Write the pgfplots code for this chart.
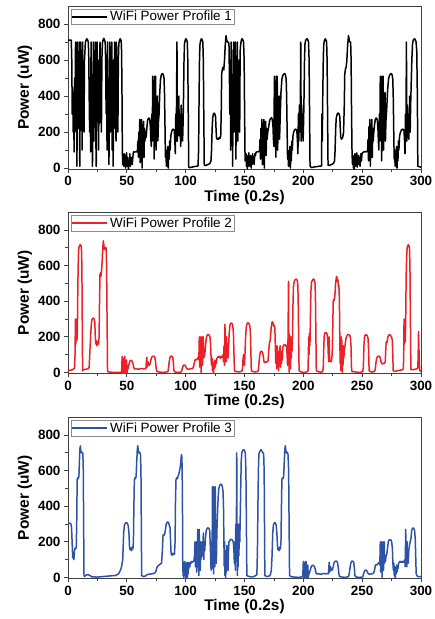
\documentclass[border=0pt]{standalone}
\usepackage{fontspec}
\setmainfont{Liberation Sans}
\usepackage{pgfplots}
\pgfplotsset{compat=1.18}
\definecolor{pred}{RGB}{236,32,38}
\definecolor{pblue}{RGB}{46,82,166}
\pgfplotsset{
  panel/.style={
    anchor=south west, width=353bp, scale only axis,
    xmin=0, xmax=300, ymin=-5, ymax=900,
    xtick={0,50,...,300}, ytick={0,200,...,800},
    minor x tick num=1, minor y tick num=1,
    tick pos=left, tick align=outside,
    major tick length=4bp, minor tick length=3bp,
    every tick/.style={black!75, line width=0.8pt},
    axis line style={black!75, line width=0.8pt},
    /pgf/number format/assume math mode=true,
    tick label style={font=\fontsize{13.5}{14}\selectfont\bfseries},
    label style={font=\fontsize{15.5}{16}\selectfont\bfseries},
    xlabel={Time (0.2s)}, ylabel={Power (uW)},
    xlabel style={yshift=3bp},
    ylabel style={yshift=-1bp},
    legend style={at={(0,1)}, anchor=north west, xshift=3bp, yshift=-3bp,
      draw=black!45, line width=0.5pt, inner sep=0.5pt, inner ysep=0pt,
      font=\fontsize{13.5}{14}\selectfont},
    legend image code/.code={\draw[#1,line width=1.4pt] (0bp,0bp) -- (35bp,0bp);},
    legend cell align=left,
  }
}
\begin{document}
\begin{tikzpicture}
\useasboundingbox (0,0) rectangle (435bp,-619bp);
% ---------------- Panel 1
\begin{axis}[panel, at={(68bp,-169bp)}, height=163bp]
\addplot[black, line width=1.5pt, line join=round] coordinates {
(0,710) (2.8,710) (3.2,600) (3.6,300) (4.0,450) (4.4,200) (4.8,350) (5.2,90) (5.6,500) (6.0,300) (6.4,700) (6.8,200) (7.2,500) (7.6,10) (8.0,700) (8.4,300) (8.8,510) (9.2,220) (9.6,700) (10.0,10) (10.4,400) (10.8,700) (11.2,250) (11.6,500) (12.0,100) (12.4,700) (12.8,300) (13.2,520) (13.6,200) (14.0,600)
(14.4,650) (14.8,700) (15.4,712) (16.0,718) (16.6,712) (17.2,700) (17.6,640) (18.0,400)
(18.4,200) (18.8,500) (19.2,90) (19.6,700) (20.0,250) (20.4,520) (20.8,10) (21.2,400) (21.6,700) (22.0,150) (22.4,510) (22.8,300) (23.2,700) (23.6,200) (24.0,10) (24.4,450) (24.8,700) (25.2,300) (25.6,600) (26.0,100) (26.4,500) (26.8,250) (27.2,700) (27.6,300) (28.0,550) (28.4,200)
(28.8,600) (29.2,690) (29.8,712) (30.4,720) (31.0,712) (31.6,700) (32.0,600) (32.4,300)
(32.8,450) (33.2,100) (33.6,700) (34.0,250) (34.4,500) (34.8,20) (35.2,400) (35.6,700) (36.0,200) (36.4,520) (36.8,300) (37.2,700) (37.6,100) (38.0,450) (38.4,10) (38.8,600) (39.2,300) (39.6,700) (40.0,220) (40.4,500) (40.8,150) (41.2,700) (41.6,300) (42.0,510) (42.4,200)
(42.8,600) (43.2,690) (43.8,712) (44.4,718) (45.0,710) (45.4,690) (45.8,500) (46.2,100) (46.5,20)
(47.0,60) (47.4,10) (47.8,80) (48.2,20) (48.6,70) (49.0,0) (49.4,50) (49.8,85) (50.2,10) (50.6,60) (51.0,30) (51.4,-10) (51.8,45) (52.2,20) (52.6,80) (53.0,10) (53.4,55) (53.8,30) (54.2,60) (54.6,20) (55.0,50) (55.4,80) (55.8,90)
(56.2,88) (57.0,90) (57.8,92) (58.6,90) (59.0,95)
(59.4,150) (59.8,60) (60.2,200) (60.6,80) (61.0,270) (61.4,30) (61.8,180) (62.2,100) (62.6,270) (63.0,0) (63.4,200) (63.8,120) (64.2,260) (64.6,60) (65.0,220) (65.4,150) (65.8,200)
(66.4,170) (67.0,220) (67.6,265) (68.2,275) (68.8,278) (69.4,270) (70.0,230) (70.4,160)
(70.8,120) (71.2,300) (71.6,150) (72.0,510) (72.4,200) (72.8,400) (73.2,50) (73.6,510) (74.0,250) (74.4,510) (74.8,100) (75.2,350) (75.6,200) (76.0,400) (76.4,150) (76.8,250)
(77.4,300) (78.0,420) (78.6,490) (79.2,515) (79.8,522) (80.4,525) (81.0,518) (81.6,500) (82.0,420) (82.4,250)
(82.8,60) (83.2,100) (83.6,10) (84.0,80) (84.4,30) (84.8,120) (85.2,0) (85.6,90) (86.0,50) (86.4,150) (86.8,100)
(87.4,180) (88.0,200) (88.6,212) (89.2,216) (89.8,215) (90.4,205) (90.8,150)
(91.2,80) (91.6,300) (92.0,150) (92.6,700) (93.0,150) (93.4,300) (93.8,200) (94.2,400) (94.6,180) (95.0,300) (95.4,210) (95.8,120) (96.2,350) (96.6,200) (97.0,300) (97.4,150) (97.8,250) (98.2,400)
(98.6,600) (99.0,690) (99.6,710) (100.2,718) (100.8,712) (101.4,700) (101.8,600) (102.2,300) (102.6,10)
(103.0,2) (105,5) (107,8) (109,10) (110.5,12)
(111.0,100) (111.4,400) (111.8,620) (112.2,690) (112.8,710) (113.4,718) (114.0,712) (114.6,700) (115.0,600) (115.4,300) (115.8,15)
(117,15) (119,20) (120.5,25) (121.5,40)
(122.0,100) (122.5,220) (123.0,280) (123.6,300) (124.2,305) (124.8,300) (125.4,285) (125.8,220) (126.2,170) (126.8,160) (127.4,165) (128.0,160) (128.6,170) (129.2,165) (129.8,180) (130.2,300) (130.6,520) (131.2,550) (131.8,560) (132.4,545) (133.0,600) (133.6,680) (134.3,735) (134.9,710) (135.5,700) (136.2,700) (136.8,690)
(137.2,500) (137.5,300) (137.9,600) (138.3,100) (138.7,700) (139.1,250) (139.5,520) (139.9,10) (140.3,400) (140.7,700) (141.1,200) (141.5,500) (141.9,300) (142.3,700) (142.7,50) (143.1,450) (143.5,250) (143.9,700) (144.3,150) (144.7,500) (145.1,300) (145.5,600) (145.9,200) (146.3,650)
(146.8,690) (147.4,712) (148.0,718) (148.6,712) (149.2,700) (149.7,600) (150.1,300) (150.5,40)
(151.3,80) (151.7,10) (152.1,60) (152.5,-5) (152.9,70) (153.3,20) (153.7,85) (154.1,10) (154.5,50) (154.9,30) (155.3,70) (155.7,0) (156.1,60) (156.5,20) (156.9,80) (157.3,40) (157.7,60) (158.1,20) (158.5,55) (158.9,80) (159.3,70)
(159.8,88) (160.6,90) (161.4,92) (162.2,90) (162.8,95)
(163.2,160) (163.6,50) (164.0,220) (164.4,90) (164.8,270) (165.2,20) (165.6,190) (166.0,110) (166.4,270) (166.8,0) (167.2,210) (167.6,130) (168.0,260) (168.4,70) (168.8,220) (169.2,160)
(169.8,200) (170.6,230) (171.4,265) (172.2,275) (173.0,280) (173.6,270) (174.2,230) (174.6,160)
(175.0,120) (175.4,510) (175.8,200) (176.2,400) (176.6,60) (177.0,510) (177.4,250) (177.8,510) (178.2,100) (178.6,350) (179.0,200) (179.4,400) (179.8,160)
(180.4,300) (181.0,420) (181.8,495) (182.6,515) (183.4,522) (184.2,525) (184.8,518) (185.4,495) (185.8,400) (186.2,220)
(186.6,50) (187.0,100) (187.4,10) (187.8,80) (188.2,20) (188.6,120) (189.0,0) (189.4,90) (189.8,40) (190.2,150) (190.6,100)
(191.2,180) (191.8,200) (192.5,212) (193.2,216) (193.9,215) (194.5,205) (195.0,150)
(195.4,80) (195.8,300) (196.2,150) (196.6,350) (197.0,200) (197.4,300) (197.8,700) (198.2,150) (198.6,350) (199.0,200) (199.4,300) (199.8,150) (200.2,250) (200.6,400)
(201.0,600) (201.4,690) (202.0,710) (202.6,715) (203.2,718) (203.8,712) (204.4,700) (204.9,600) (205.3,300) (205.7,10)
(207,3) (209,6) (211,8) (213,10) (215.5,12)
(215.8,300) (216.1,150) (216.5,400) (217.0,620) (217.4,690) (218.0,710) (218.6,718) (219.2,712) (219.8,700) (220.2,600) (220.6,300) (221.0,15)
(222,15) (224,20) (225.5,25) (226.5,40)
(227.0,100) (227.5,220) (228.0,280) (228.8,300) (229.6,306) (230.4,300) (231.0,285) (231.4,220) (231.8,170) (232.4,160) (233.0,165) (233.6,175) (234.2,200) (234.8,350) (235.2,520) (235.8,550) (236.4,560) (237.0,600) (237.6,680) (238.4,735) (239.0,710) (239.6,700) (240.2,700) (240.6,600) (241.0,300) (241.4,80)
(241.8,20) (242.2,70) (242.6,0) (243.0,60) (243.4,-10) (243.8,80) (244.2,10) (244.6,55) (245.0,30) (245.4,85) (245.8,5) (246.2,60) (246.6,20) (247.0,70) (247.4,30) (247.8,55) (248.2,10) (248.6,60) (249.0,80) (249.4,40) (249.8,75) (250.3,85)
(250.8,88) (251.6,90) (252.4,92) (253.2,90) (254.0,92) (254.6,95)
(255.0,160) (255.4,40) (255.8,230) (256.2,90) (256.6,270) (257.0,10) (257.4,200) (257.8,120) (258.2,270) (258.6,60) (259.0,220) (259.4,150)
(259.9,200) (260.5,240) (261.1,268) (261.7,277) (262.3,278) (262.9,265) (263.4,220) (263.8,150)
(264.2,100) (264.6,300) (265.0,150) (265.4,510) (265.8,220) (266.2,400) (266.6,40) (267.0,510) (267.4,250) (267.8,510) (268.2,100) (268.6,350) (269.0,200) (269.4,420) (269.8,150) (270.2,260)
(270.8,320) (271.6,430) (272.4,495) (273.2,515) (274.0,522) (274.8,525) (275.4,518) (276.0,495) (276.4,400) (276.8,220)
(277.2,50) (277.6,100) (278.0,10) (278.4,80) (278.8,20) (279.2,120) (279.6,0) (280.0,90) (280.4,40) (280.8,150) (281.2,100)
(281.8,180) (282.6,200) (283.4,212) (284.2,216) (285.0,215) (285.6,205) (286.0,150)
(286.4,80) (286.8,300) (287.2,150) (287.6,700) (288.0,150) (288.4,350) (288.8,200) (289.2,300) (289.6,160) (290.0,260) (290.4,400) (290.8,200) (291.2,350) (291.6,450)
(292.2,600) (292.8,690) (293.4,710) (294.0,716) (294.6,718) (295.2,712) (295.8,700) (296.4,650) (296.9,400) (297.3,10) (300,5)
};
\addlegendentry{WiFi Power Profile 1}
\end{axis}
% ---------------- Panel 2
\begin{axis}[panel, at={(68bp,-373.3bp)}, height=161bp]
\addplot[pred, line width=1.5pt, line join=round] coordinates {
(0,10) (2,12) (3.6,15) (4.5,18) (5.5,25) (6.0,100) (6.3,300) (6.6,160) (7.0,200) (7.3,300) (7.6,180) (8.0,250) (8.4,500) (8.8,650) (9.2,700) (9.8,712) (10.4,718) (11.0,712) (11.4,700) (11.8,600) (12.1,300) (12.4,10)
(13.5,15) (15,18) (17,20) (18.0,30) (18.6,120) (19.2,200) (19.8,270) (20.4,298) (21.0,305) (21.6,305) (22.2,300) (22.8,280) (23.2,200) (23.6,160) (24.0,180) (24.4,150) (24.8,170) (25.2,155) (25.6,175) (26.0,160) (26.4,200) (26.8,400) (27.2,550) (27.6,560) (28.0,540) (28.4,565) (28.8,600) (29.2,650) (29.6,700) (30.0,740) (30.4,720) (30.8,690) (31.2,705) (31.6,700) (32.0,695) (32.4,700) (32.8,600) (33.2,300) (33.6,5)
(35,2) (40,0) (45.0,0) (45.6,5) (46.0,90) (46.3,-10) (46.6,60) (47.0,5) (47.3,80) (47.6,-15) (48.0,40) (48.3,90) (48.7,0) (49.0,50) (49.4,10) (49.8,70) (50.2,-10) (50.6,30) (51.0,20)
(51.6,40) (52.2,55) (52.8,65) (53.4,68) (54.0,67) (54.6,62) (55.2,50) (55.8,30) (56.4,20)
(58,20) (60,18) (62,22) (64,20) (65.5,22) (66.2,20) (66.6,60) (67.0,85) (67.3,30) (67.6,40) (68.0,60) (68.4,45) (69,40)
(69.5,45) (70.2,60) (70.8,80) (71.4,88) (72.0,90) (72.6,92) (73.2,90) (73.8,85) (74.4,60) (75.0,20) (75.6,5)
(78,2) (81,0) (84,3) (85.0,5) (85.5,30) (86.0,60) (86.6,82) (87.2,90) (87.8,92) (88.4,90) (89.0,85) (89.6,50) (90.0,10) (91,2) (94,0) (96.4,3) (97.0,20) (97.6,32) (98.2,40) (98.8,42) (99.4,40) (100.0,35) (100.6,25) (101.2,20) (102,18) (104,20) (106,22) (107,40) (107.6,65) (108.2,72) (109,70) (110,78) (110.7,85)
(111.2,70) (111.6,200) (111.9,30) (112.2,180) (112.5,60) (112.8,200) (113.1,0) (113.4,150) (113.7,90) (114.0,200) (114.3,40) (114.6,130) (115.0,200) (115.3,80) (115.6,100) (116.0,90) (116.5,120)
(117.0,160) (117.6,195) (118.2,208) (118.8,212) (119.4,212) (120.0,210) (120.6,200) (121.2,160) (121.6,80) (122.0,40) (122.4,80) (122.8,10) (123.2,60) (123.6,-10) (124.0,50) (124.4,20) (124.8,70) (125.2,30) (125.6,60) (126.0,50) (126.6,80) (127.2,85) (127.8,90) (128.4,85) (129.0,90) (129.6,80) (130.2,90) (130.8,85) (131.4,90) (131.8,100) (132.2,60) (132.6,150) (133.0,40) (133.4,270) (133.7,80) (134.0,150) (134.4,60) (134.8,200) (135.2,90) (135.6,120) (136.0,80) (136.5,150)
(137.0,220) (137.6,265) (138.2,275) (138.8,278) (139.4,275) (140.0,265) (140.6,220) (141.0,120) (141.4,20) (142,5) (145,3) (147,5) (148.0,10) (148.4,30) (148.8,80) (149.2,100) (149.6,60) (150.0,40)
(150.4,100) (150.8,180) (151.4,250) (152.0,270) (152.6,278) (153.2,278) (153.8,275) (154.4,265) (155.0,230) (155.4,120) (155.8,10)
(157,5) (159,3) (161,5) (161.8,10) (162.4,60) (163.0,100) (163.6,115) (164.2,120) (164.8,118) (165.4,110) (166.0,90) (166.6,60) (167.2,55) (168,60) (169,58) (170,65) (170.6,120) (171.2,170) (171.8,175) (172.3,220) (172.8,260) (173.3,280) (173.8,285) (174.3,275) (174.8,260) (175.3,265) (175.8,250) (176.2,150) (176.6,50)
(177.0,100) (177.4,20) (177.8,150) (178.2,40) (178.6,80) (179.0,10) (179.4,120) (179.8,60) (180.2,150) (180.6,30) (181.0,90) (181.4,50) (181.8,120) (182.2,70) (182.6,140) (183.0,150) (183.6,155) (184.2,150) (184.8,155) (185.4,150) (185.8,140) (186.2,100)
(186.6,40) (187.0,200) (187.4,512) (187.7,100) (188.0,0) (188.3,210) (188.6,60) (188.9,150) (189.2,20) (189.5,200) (189.8,80) (190.1,180) (190.4,120) (190.8,200) (191.2,380) (191.6,480) (192.2,510) (192.8,520) (193.4,522) (194.0,525) (194.6,520) (195.2,505) (195.6,420) (196.0,200) (196.4,10)
(198,2) (201,0) (203,3) (204.0,10) (204.3,120) (204.6,200) (204.9,100) (205.2,220) (205.6,150) (206.0,300) (206.4,450) (206.9,505) (207.5,515) (208.1,522) (208.7,525) (209.3,520) (209.9,505) (210.3,420) (210.7,200) (211.0,10)
(213,3) (215,2) (216.6,5) (217.0,40) (217.4,150) (217.8,210) (218.4,222) (219.0,225) (219.6,222) (220.2,215) (220.8,180) (221.2,100) (221.6,60) (222.0,200) (222.3,80) (222.6,60) (223.0,65) (223.5,60) (224.0,70) (224.5,100) (225.0,250) (225.4,400) (225.8,410) (226.2,405) (226.6,420) (227.0,450) (227.4,500) (227.8,520) (228.2,540) (228.6,530) (229.0,510) (229.4,520) (229.8,480) (230.2,490) (230.6,420) (231.0,200) (231.3,50)
(231.6,150) (231.9,10) (232.2,200) (232.5,60) (232.8,180) (233.1,0) (233.4,120) (233.7,40) (234.0,150) (234.4,80) (234.8,120)
(235.4,150) (236.2,190) (237.0,205) (237.8,212) (238.6,212) (239.4,210) (240.0,195) (240.5,150) (240.9,30) (241.3,5)
(245,2) (248,0) (250.5,5) (251.0,30) (251.5,150) (252.0,200) (252.6,210) (253.2,212) (253.8,210) (254.4,205) (255.0,190) (255.5,120) (255.9,10) (258,2) (260.5,5) (261.2,20) (261.8,60) (262.4,80) (263.0,88) (263.6,90) (264.2,92) (264.8,90) (265.4,80) (266.0,60) (266.6,50) (267.4,48) (268.2,52) (269.0,50) (269.6,60) (270.0,120) (270.4,170) (270.8,172) (271.2,168) (271.6,190) (272.0,200) (272.6,210) (273.2,212) (273.8,210) (274.4,205) (275.0,200) (275.6,180) (276.0,100) (276.4,10)
(278,5) (280,10) (282,12) (284,15) (285.0,20) (285.3,100) (285.6,300) (285.9,160) (286.2,200) (286.6,170) (287.0,300) (287.4,550) (287.8,650) (288.2,700) (288.7,712) (289.2,718) (289.7,712) (290.2,700) (290.6,600) (291.0,300) (291.4,15)
(293,15) (295,18) (296.5,20) (297.3,25) (297.6,100) (297.9,230) (298.2,150) (298.6,50) (299.0,10) (300,5)
};
\addlegendentry{WiFi Power Profile 2}
\end{axis}
% ---------------- Panel 3
\begin{axis}[panel, at={(68bp,-578.3bp)}, height=161bp]
\addplot[pblue, line width=1.5pt, line join=round] coordinates {
(0,305) (1.5,305) (2.5,300) (3.0,280) (3.5,200) (4.0,110) (4.5,140) (5.0,100) (5.5,150) (6.0,165) (6.5,160) (7.0,170) (7.4,300) (7.8,550) (8.3,560) (8.8,555) (9.3,570) (9.7,650) (10.1,720) (10.5,740) (10.9,710) (11.3,700) (11.7,705) (12.1,700) (12.6,700) (13.0,600) (13.3,300) (13.6,10)
(14.2,5) (15,12) (16,15) (17.5,14) (19,10) (20,3) (25,2) (30,5) (35,8) (38,10) (40,10) (41.5,15) (43,20)
(44.5,40) (45.5,60) (46.5,100) (47.3,250) (48.0,295) (48.8,305) (49.6,308) (50.4,305) (51.2,290) (51.8,250) (52.3,170) (52.8,155) (53.4,165) (54.0,150) (54.6,170) (55.2,160) (55.6,200) (56.0,400) (56.4,550) (56.9,560) (57.4,555) (57.9,570) (58.4,650) (58.9,720) (59.3,740) (59.7,715) (60.1,700) (60.6,705) (61.1,700) (61.6,690) (62.0,600) (62.3,300) (62.6,10)
(64,5) (66,8) (67,15) (69,18) (71,20) (73,22) (74.5,30) (75.5,55) (76.5,65) (77.5,70) (78.5,75) (79.5,80) (80.2,150) (80.8,240) (81.5,235) (82.2,245) (82.8,270) (83.5,300) (84.2,308) (84.9,312) (85.6,305) (86.2,290) (86.7,280) (87.2,200) (87.6,135) (88.2,125) (88.8,135) (89.4,128) (90.0,135) (90.5,130) (91.0,200) (91.4,450) (91.8,550) (92.4,560) (93.0,555) (93.6,570) (94.2,580) (94.8,600) (95.4,620) (95.9,650) (96.4,690) (96.8,680) (97.2,500) (97.5,100) (97.8,10)
(98.2,80) (98.5,-10) (98.8,85) (99.1,30) (99.4,90) (99.7,10) (100.0,70) (100.3,-15) (100.6,80) (100.9,40) (101.2,85) (101.5,0) (101.8,60) (102.1,20) (102.4,85) (102.7,50) (103.0,80) (103.5,60) (104.0,85) (104.5,80) (105.0,90) (105.5,85) (106.0,88) (106.5,90) (107.0,95) (107.5,120) (107.9,200) (108.2,60) (108.5,180) (108.8,90) (109.1,200) (109.4,30) (109.7,150) (110.0,100) (110.3,270) (110.6,60) (110.9,200) (111.2,10) (111.5,270) (111.8,80) (112.1,150) (112.4,40) (112.7,200) (113.0,100) (113.3,180) (113.7,150) (114.1,200)
(114.5,120) (115.0,250) (115.4,100) (115.8,200) (116.2,150) (116.8,220) (117.4,260) (118.0,272) (118.6,278) (119.2,278) (119.8,275) (120.4,265) (120.8,200) (121.2,120)
(121.6,40) (122.0,200) (122.4,50) (122.8,510) (123.1,100) (123.4,350) (123.7,20) (124.0,510) (124.3,200) (124.6,400) (124.9,60) (125.2,510) (125.5,150) (125.8,300) (126.1,80) (126.5,250) (127.0,350) (127.6,450) (128.2,500) (128.8,515) (129.4,522) (130.0,525) (130.6,520) (131.2,510) (131.8,480) (132.2,380) (132.5,200)
(132.8,60) (133.1,200) (133.4,10) (133.7,150) (134.0,-10) (134.3,120) (134.6,30) (135.0,180) (135.3,60) (135.6,100) (136.0,40) (136.4,150) (136.8,200)
(137.3,205) (138.0,212) (138.7,215) (139.4,212) (140.0,205) (140.5,200) (141.0,150) (141.4,80) (141.8,200) (142.2,40) (142.6,300) (143.0,100) (143.4,700) (143.7,150) (144.0,10) (144.3,200) (144.6,60) (144.9,300) (145.2,120) (145.6,250) (146.0,200)
(146.4,350) (146.8,500) (147.2,650) (147.7,700) (148.3,712) (148.9,716) (149.5,718) (150.1,712) (150.7,700) (151.2,600) (151.6,300) (152.0,10)
(154,5) (156,3) (158,5) (160.5,15) (161.0,150) (161.4,400) (161.8,600) (162.2,690) (162.8,705) (163.4,712) (164.0,718) (164.6,712) (165.2,705) (165.8,700) (166.3,690) (166.7,600) (167.0,300) (167.3,10)
(169,5) (171,8) (172,15) (172.8,40) (173.4,120) (174.0,250) (174.6,295) (175.2,305) (175.8,308) (176.4,305) (177.0,290) (177.5,250) (178.0,180) (178.5,155) (179.0,165) (179.5,150) (180.0,170) (180.5,160) (181.0,200) (181.4,400) (181.8,550) (182.3,560) (182.8,555) (183.3,570) (183.8,650) (184.3,720) (184.7,740) (185.1,715) (185.5,700) (186.0,705) (186.5,700) (187.0,690) (187.5,600) (187.9,300) (188.3,10)
(190,3) (193,2) (196,0) (198.5,3) (199.5,5)
(200.0,90) (200.3,-10) (200.6,60) (201.0,5) (201.3,85) (201.6,-15) (202.0,40) (202.3,90) (202.7,0) (203.0,50) (203.4,10) (203.8,70) (204.2,-10) (204.6,30) (205.0,20)
(205.8,40) (206.5,55) (207.2,65) (207.9,68) (208.6,67) (209.3,62) (210.0,50) (210.6,30) (211.2,20)
(213,20) (215,18) (217,22) (219,20) (220.5,22) (221.3,20) (221.7,60) (222.0,85) (222.3,30) (222.7,40) (223.2,60) (223.6,45) (224.2,40)
(224.8,45) (225.4,60) (226.0,80) (226.6,88) (227.2,90) (227.8,92) (228.4,90) (229.0,85) (229.6,60) (230.2,20) (230.8,5)
(233,2) (236,0) (238.5,5) (239.2,30) (239.8,60) (240.4,82) (241.0,90) (241.6,92) (242.2,90) (242.8,85) (243.4,50) (243.8,10) (245,2) (248,0) (250.5,3) (251.2,20) (251.8,32) (252.4,40) (253.0,42) (253.6,40) (254.2,35) (254.8,25) (255.4,20) (256.5,18) (258,20) (259.5,22) (260.5,40) (261.1,65) (261.7,72) (262.5,70) (263.5,78) (264.5,85)
(265.0,70) (265.4,200) (265.7,30) (266.0,180) (266.3,60) (266.6,200) (266.9,0) (267.2,150) (267.5,90) (267.8,200) (268.1,40) (268.4,130) (268.8,200) (269.1,80) (269.4,100) (269.8,90) (270.3,120) (270.9,130)
(271.5,160) (272.1,195) (272.7,208) (273.3,212) (273.9,212) (274.5,210) (275.1,200) (275.7,160) (276.1,80) (276.5,40) (276.9,80) (277.3,10)
(277.7,60) (278.1,-10) (278.5,50) (278.9,20) (279.3,70) (279.7,30) (280.1,60) (280.5,50) (281.0,80) (281.6,85) (282.2,90) (282.8,85) (283.4,90) (284.0,85) (284.6,90) (285.2,85) (285.8,90) (286.2,100) (286.6,60) (287.0,270) (287.3,80) (287.6,150) (287.9,60) (288.2,200) (288.5,90) (288.8,120) (289.2,80) (289.6,150) (290.2,180) (290.8,200)
(291.5,220) (292.1,265) (292.7,275) (293.3,278) (293.9,275) (294.5,265) (295.1,220) (295.5,120) (295.9,20) (297,5) (300,5)
};
\addlegendentry{WiFi Power Profile 3}
\end{axis}
\end{tikzpicture}
\end{document}
